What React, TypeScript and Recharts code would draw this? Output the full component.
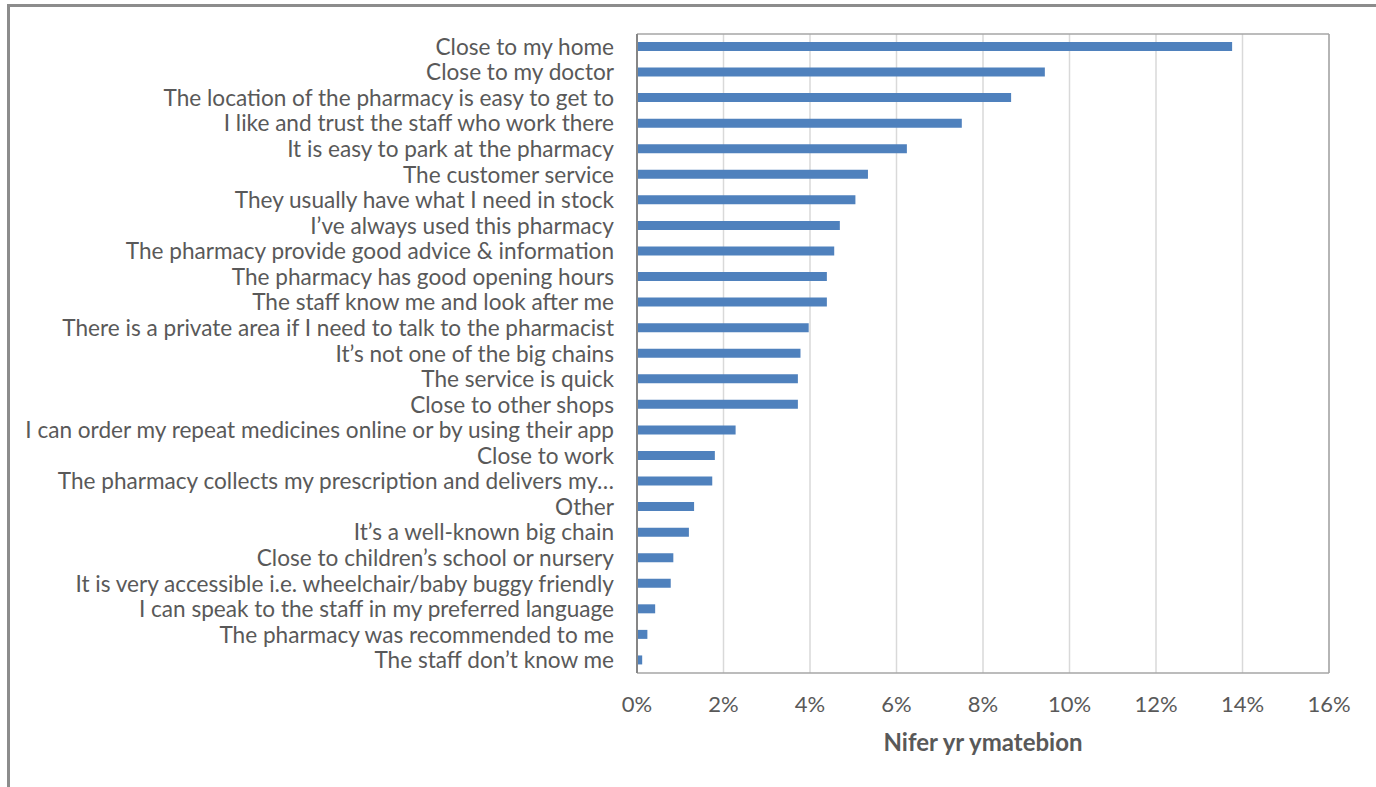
import React from "react"
import { Bar, BarChart, CartesianGrid, XAxis, YAxis } from "recharts"

// reasons for choosing a pharmacy, top to bottom
const reasons = [
  "Close to my home",
  "Close to my doctor",
  "The location of the pharmacy is easy to get to",
  "I like and trust the staff who work there",
  "It is easy to park at the pharmacy",
  "The customer service",
  "They usually have what I need in stock",
  "I’ve always used this pharmacy",
  "The pharmacy provide good advice & information",
  "The pharmacy has good opening hours",
  "The staff know me and look after me",
  "There is a private area if I need to talk to the pharmacist",
  "It’s not one of the big chains",
  "The service is quick",
  "Close to other shops",
  "I can order my repeat medicines online or by using their app",
  "Close to work",
  "The pharmacy collects my prescription and delivers my…",
  "Other",
  "It’s a well-known big chain",
  "Close to children’s school or nursery",
  "It is very accessible i.e. wheelchair/baby buggy friendly",
  "I can speak to the staff in my preferred language",
  "The pharmacy was recommended to me",
  "The staff don’t know me",
]

// percent of responses
const responses = [
  13.76, 9.43, 8.65, 7.51, 6.24, 5.34, 5.05, 4.69, 4.56, 4.39, 4.39, 3.97, 3.78,
  3.72, 3.72, 2.28, 1.8, 1.74, 1.32, 1.2, 0.84, 0.78, 0.42, 0.24, 0.12,
]

const xTicks = [0, 2, 4, 6, 8, 10, 12, 14, 16]

const axisTitle = "Nifer yr ymatebion"

const data = reasons.map((name, i) => ({ name, value: responses[i] }))

const font = "Lato, 'Noto Sans', sans-serif"

export default function App() {
  return (
    <div style={{ fontFamily: font }}>
      <div
        style={{
          position: "absolute",
          left: 7,
          top: 4,
          width: 1369,
          height: 783,
          borderLeft: "3px solid #8c8c8c",
          borderTop: "3px solid #8c8c8c",
          boxSizing: "border-box",
        }}
      />
      <div style={{ position: "absolute", left: 0, top: 0 }}>
        <BarChart
          width={1376}
          height={787}
          data={data}
          layout="vertical"
          barSize={9}
          margin={{ top: 34, right: 47, bottom: 24, left: 0 }}
        >
          <CartesianGrid horizontal={false} stroke="#d9d9d9" strokeWidth={1.5} />
          <CartesianGrid horizontalPoints={[34]} verticalPoints={[1329]} stroke="#a6a6a6" strokeWidth={1.5} />
          <XAxis
            type="number"
            domain={[0, 16]}
            ticks={xTicks}
            tickFormatter={(v) => `${v}%`}
            tickLine={false}
            tickSize={0}
            tickMargin={23}
            axisLine={{ stroke: "#a6a6a6", strokeWidth: 1.5 }}
            tick={{ fill: "#595959", fontSize: 22, fontFamily: font }}
            height={90}
            label={{
              value: axisTitle,
              position: "insideTop",
              offset: 61,
              fill: "#595959",
              fontSize: 24,
              fontWeight: "bold",
              fontFamily: font,
            }}
          />
          <YAxis
            type="category"
            dataKey="name"
            width={637}
            interval={0}
            tickLine={false}
            tickSize={0}
            tickMargin={23}
            axisLine={{ stroke: "#868686", strokeWidth: 2 }}
            tick={{ fill: "#595959", fontSize: 22.6, fontFamily: font }}
          />
          <Bar dataKey="value" fill="#4f81bd" isAnimationActive={false} />
        </BarChart>
      </div>
    </div>
  )
}
